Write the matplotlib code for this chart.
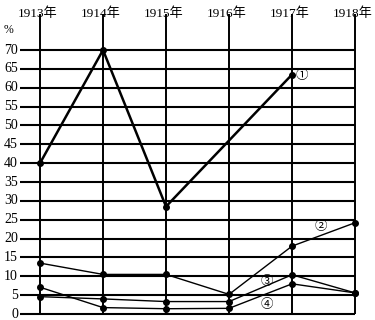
import matplotlib.pyplot as plt

years = [1913, 1914, 1915, 1916, 1917, 1918]
year_labels = ['1913年', '1914年', '1915年', '1916年', '1917年', '1918年']
y_ticks = list(range(0, 75, 5))

# series ① has no value for 1916
s1_x = [1913, 1914, 1915, 1917]
s1_y = [40, 70, 28.5, 63.5]
s2_y = [13.5, 10.5, 10.5, 5.2, 18, 24.2]
s3_y = [4.6, 4.0, 3.3, 3.3, 10.4, 5.6]
s4_y = [7.1, 1.7, 1.4, 1.5, 8.0, 5.6]

fam = ['Liberation Serif', 'Noto Sans CJK SC']

fig = plt.figure(figsize=(3.75, 3.2), dpi=100)
ax = fig.add_axes([0, 0, 1, 1])
ax.set_xlim(1912.365, 1918.317)
ax.set_ylim(-1.59, 83.27)
ax.axis('off')

# grid
ax.hlines(y_ticks, 1912.683, 1918, colors='black', linewidth=1.5, zorder=1)
ax.vlines(years, 0, 79.6, colors='black', linewidth=1.4, zorder=1)

for v in y_ticks:
    ax.text(1912.65, v, str(v), ha='right', va='center', fontsize=10, family=fam)
ax.text(1912.5, 75.3, '%', ha='center', va='center', fontsize=8.5, family=fam)
for x, lab in zip(years, year_labels):
    ax.text(x - 0.03, 79.6, lab, ha='center', va='center', fontsize=9.5, family=fam,
            bbox=dict(facecolor='none', edgecolor='none', pad=0))

ax.plot(s1_x, s1_y, color='black', linewidth=1.8, marker='o', markersize=4, zorder=3)
ax.plot(years, s2_y, color='black', linewidth=1.0, marker='o', markersize=4, zorder=3)
ax.plot(years, s3_y, color='black', linewidth=1.0, marker='o', markersize=4, zorder=3)
ax.plot(years, s4_y, color='black', linewidth=1.0, marker='o', markersize=4, zorder=3)

ax.text(1917.15, 63.0, '①', ha='center', va='center', fontsize=9, family=fam)
ax.text(1917.45, 23.0, '②', ha='center', va='center', fontsize=9, family=fam)
ax.text(1916.6, 8.5, '③', ha='center', va='center', fontsize=9, family=fam)
ax.text(1916.6, 2.4, '④', ha='center', va='center', fontsize=9, family=fam)

fig.savefig('out.png', dpi=100, facecolor='white')
